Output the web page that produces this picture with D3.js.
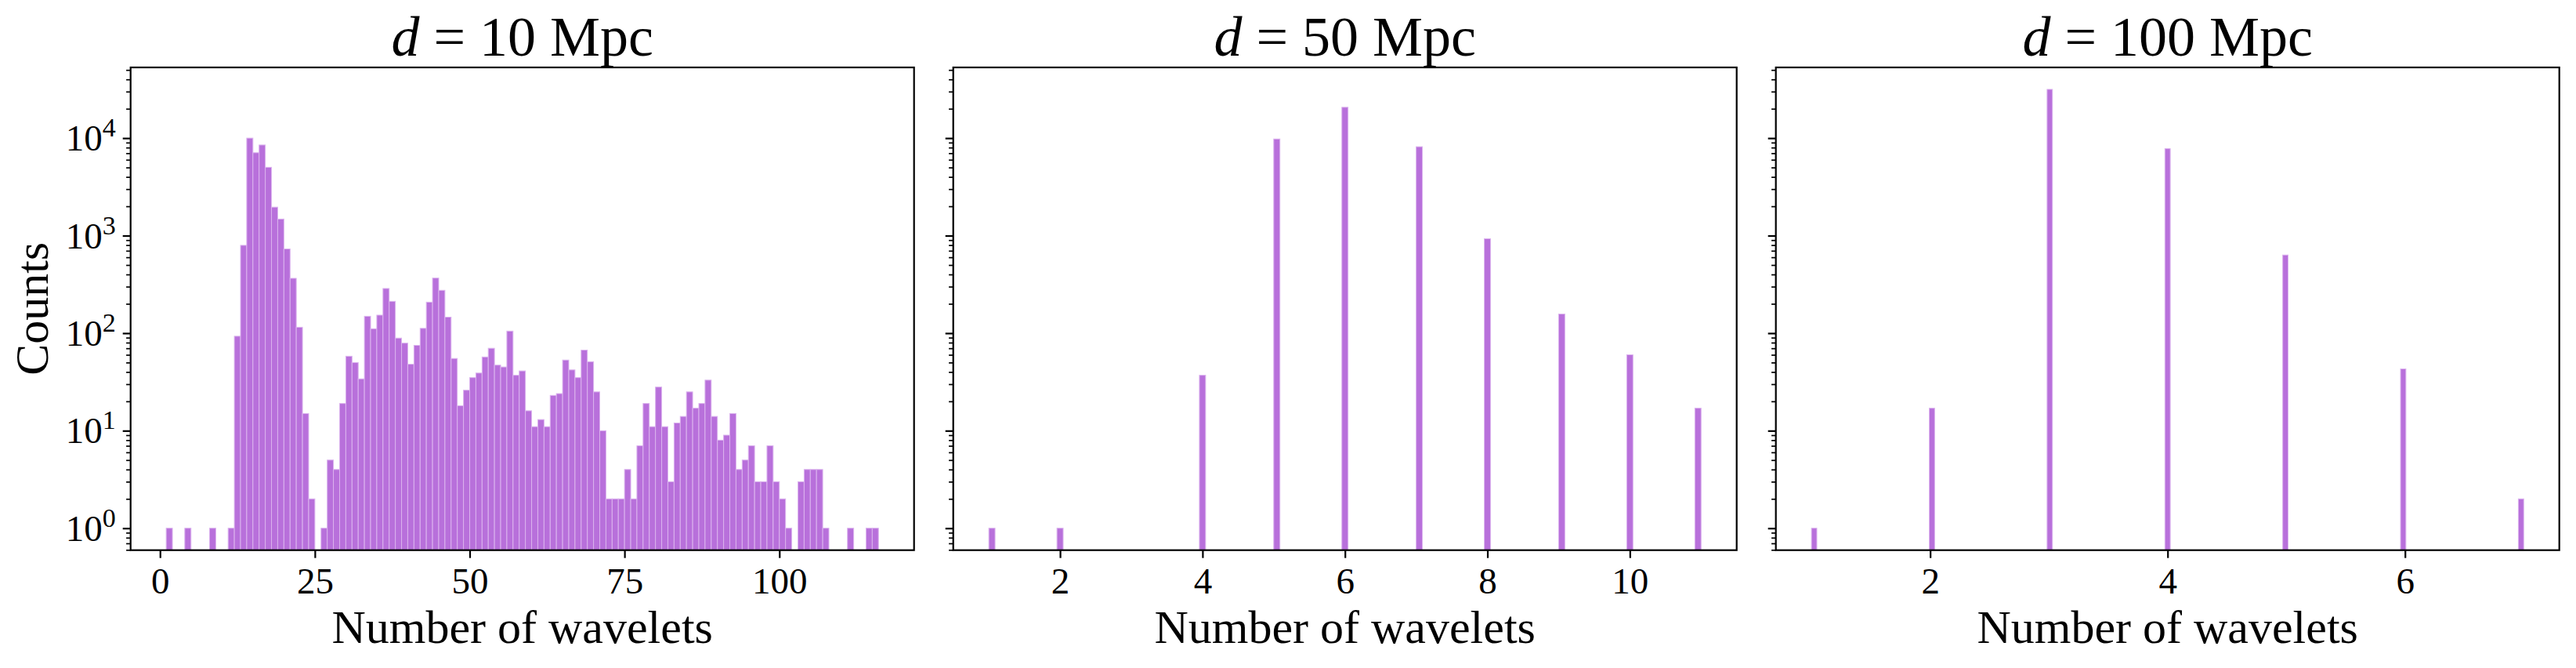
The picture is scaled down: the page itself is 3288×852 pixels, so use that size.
<!DOCTYPE html>
<html>
<head>
<meta charset="utf-8">
<script src="https://cdn.jsdelivr.net/npm/d3@7"></script>
<style>
  body { margin: 0; background: #fff; }
  svg { display: block; }
  text { font-family: "Liberation Serif", "DejaVu Serif", serif; fill: #000; }
</style>
</head>
<body>
<svg id="chart"></svg>
<script>
// counts per integer number of wavelets, d = 10 Mpc (values 1..115, one unit bins)
const wavelets10Counts = [
  1, 0, 0, 1, 0, 0, 0, 1, 0, 0,
  1, 93, 795, 10000, 7080, 8500, 5020, 1960, 1480, 730,
  365, 115, 15, 2, 0, 1, 5, 4, 19, 58,
  50, 34, 149, 111, 153, 287, 212, 89, 79, 48,
  75, 112, 208, 367, 275, 146, 55, 18, 26, 35,
  39, 57, 70, 47, 45, 105, 37, 41, 16, 11,
  13, 11, 23, 24, 53, 42, 35, 67, 51, 25,
  10, 2, 2, 2, 4, 2, 7, 19, 11, 28,
  11, 3, 12, 14, 25, 17, 19, 33, 14, 8,
  9, 15, 4, 5, 7, 3, 3, 7, 3, 2,
  1, 0, 3, 4, 4, 4, 1, 0, 0, 0,
  1, 0, 0, 1, 1
];
const wavelets10 = wavelets10Counts.map((c, i) => i + 1);

// d = 50 Mpc
const wavelets50 = [1, 2, 4, 5, 6, 7, 8, 9, 10, 11];
const counts50 = [1, 1, 37, 9800, 20700, 8160, 930, 157, 60, 17];

// d = 100 Mpc
const wavelets100 = [1, 2, 3, 4, 5, 6, 7];
const counts100 = [1, 17, 31600, 7790, 633, 43, 2];

const titles = ['10', '50', '100'];
const xTicks = [[0, 25, 50, 75, 100], [2, 4, 6, 8, 10], [2, 4, 6]];
const yTicks = [1, 10, 100, 1000, 10000];

// histogram bin setup: [first edge, last edge, number of bins]
const binSpecs = [[1, 116, 115], [1, 11, 115], [1, 7, 133]];

const panelData = [
  { x: wavelets10, y: wavelets10Counts },
  { x: wavelets50, y: counts50 },
  { x: wavelets100, y: counts100 }
];

const W = 3288, H = 852;
const plotTop = 86, plotBottom = 701.7;
const panelW = 1000;
const lefts = [166.7, 1216.7, 2266.7];
const barFill = '#b870db';
const barEdge = '#dbb3ee';

const svg = d3.select('#chart').attr('width', W).attr('height', H);

// shared log y scale, matplotlib style 5% margins in log space
const maxCount = d3.max(panelData, p => d3.max(p.y));
const span = Math.log10(maxCount);
const y = d3.scaleLog()
  .domain([Math.pow(10, -0.05 * span), Math.pow(10, span * 1.05)])
  .range([plotBottom, plotTop]);

const minorTicks = [];
for (let k = -1; k <= 4; k++) {
  for (let m = 2; m <= 9; m++) {
    const v = m * Math.pow(10, k);
    if (v >= y.domain()[0] && v <= y.domain()[1]) minorTicks.push(v);
  }
}

panelData.forEach((p, i) => {
  const left = lefts[i];
  const [lo, hi, nBins] = binSpecs[i];
  const binW = (hi - lo) / nBins;
  const pad = 0.05 * (hi - lo);
  const x = d3.scaleLinear().domain([lo - pad, hi + pad]).range([left, left + panelW]);

  const g = svg.append('g');

  // bars
  const bins = p.x.map((v, j) => {
    const k = Math.min(Math.floor((v - lo) / binW + 1e-9), nBins - 1);
    return { x0: lo + k * binW, x1: lo + (k + 1) * binW, count: p.y[j] };
  }).filter(d => d.count > 0);

  g.append('g')
    .selectAll('rect')
    .data(bins)
    .join('rect')
    .attr('x', d => x(d.x0))
    .attr('width', d => x(d.x1) - x(d.x0))
    .attr('y', d => y(d.count))
    .attr('height', d => plotBottom - y(d.count))
    .attr('fill', barFill)
    .attr('stroke', barEdge)
    .attr('stroke-width', 1);

  // x axis
  const xAxis = g.append('g')
    .attr('transform', `translate(0,${plotBottom})`)
    .call(d3.axisBottom(x).tickValues(xTicks[i]).tickSize(10).tickSizeOuter(0).tickFormat(d3.format('d')));
  xAxis.select('.domain').remove();
  xAxis.selectAll('line').attr('stroke', '#000').attr('stroke-width', 2.2);
  xAxis.selectAll('text')
    .attr('y', 55).attr('dy', null)
    .style('font-size', '47px')
    .style('font-family', '"Liberation Serif", serif');

  // y axis, major + minor
  const yMajor = g.append('g')
    .attr('transform', `translate(${left},0)`)
    .call(d3.axisLeft(y).tickValues(yTicks).tickSize(10).tickSizeOuter(0).tickFormat(''));
  yMajor.select('.domain').remove();
  yMajor.selectAll('line').attr('stroke', '#000').attr('stroke-width', 2.2);

  const yMinor = g.append('g')
    .attr('transform', `translate(${left},0)`)
    .call(d3.axisLeft(y).tickValues(minorTicks).tickSize(5.6).tickSizeOuter(0).tickFormat(''));
  yMinor.select('.domain').remove();
  yMinor.selectAll('line').attr('stroke', '#000').attr('stroke-width', 1.7);

  if (i === 0) {
    const labels = g.append('g').selectAll('text')
      .data(yTicks)
      .join('text')
      .attr('x', left - 19)
      .attr('y', d => y(d) + 16)
      .attr('text-anchor', 'end')
      .style('font-size', '47px');
    labels.append('tspan').text('10');
    labels.append('tspan')
      .attr('dy', -18)
      .style('font-size', '34px')
      .text(d => Math.round(Math.log10(d)));

    svg.append('text')
      .attr('transform', `translate(61,${(plotTop + plotBottom) / 2}) rotate(-90)`)
      .attr('text-anchor', 'middle')
      .style('font-size', '60px')
      .text('Counts');
  }

  // spines
  g.append('rect')
    .attr('x', left).attr('y', plotTop)
    .attr('width', panelW).attr('height', plotBottom - plotTop)
    .attr('fill', 'none').attr('stroke', '#000').attr('stroke-width', 2.2);

  // x label
  g.append('text')
    .attr('x', left + panelW / 2).attr('y', 820)
    .attr('text-anchor', 'middle')
    .style('font-size', '60px')
    .text('Number of wavelets');

  // title
  const t = g.append('text')
    .attr('x', left + panelW / 2).attr('y', 71)
    .attr('text-anchor', 'middle')
    .style('font-size', '72px');
  t.append('tspan').style('font-style', 'italic').text('d');
  t.append('tspan').text(' = ' + titles[i] + ' Mpc');
});
</script>
</body>
</html>
